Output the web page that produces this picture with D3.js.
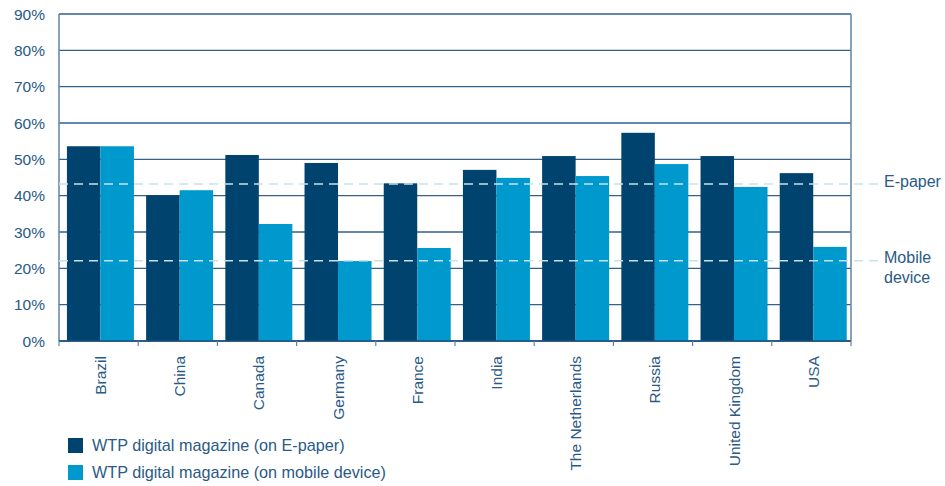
<!DOCTYPE html>
<html>
<head>
<meta charset="utf-8">
<script src="https://cdn.jsdelivr.net/npm/d3@7"></script>
<style>
  html, body { margin: 0; padding: 0; background: #fff; }
  svg { display: block; font-family: "Liberation Sans", Arial, Helvetica, sans-serif; }
</style>
</head>
<body>
<svg id="chart" width="945" height="486"></svg>
<script>
// Willingness to pay for a digital magazine, by country
const countries = ["Brazil", "China", "Canada", "Germany", "France", "India",
                   "The Netherlands", "Russia", "United Kingdom", "USA"];
const ePaper = [53.6, 40.1, 51.2, 49.0, 43.4, 47.1, 50.9, 57.3, 50.9, 46.2];
const mobile = [53.6, 41.5, 32.2, 22.0, 25.6, 44.9, 45.4, 48.7, 42.4, 25.9];
const seriesNames = ["WTP digital magazine (on E-paper)", "WTP digital magazine (on mobile device)"];
const averages = [43.2, 22.1];
const averageLabels = [["E-paper"], ["Mobile", "device"]];
const yTicks = [0, 10, 20, 30, 40, 50, 60, 70, 80, 90];

const colors = ["#00436f", "#0099cd"];
const textColor = "#2a5a85";
const gridColor = "#33618a";

const svg = d3.select("#chart");
const plot = { left: 59, right: 851, top: 14, bottom: 341 };

const x = d3.scaleBand().domain(countries).range([plot.left, plot.right]).paddingInner(0).paddingOuter(0);
const y = d3.scaleLinear().domain([0, 90]).range([plot.bottom, plot.top]);
const inner = d3.scaleBand().domain([0, 1]).range([0, x.bandwidth()])
  .paddingInner(0).paddingOuter(0.182).align(0.65);

// horizontal grid lines
svg.append("g")
  .selectAll("line")
  .data(yTicks)
  .join("line")
  .attr("x1", plot.left).attr("x2", plot.right)
  .attr("y1", d => y(d)).attr("y2", d => y(d))
  .attr("stroke", gridColor).attr("stroke-width", 1.4);

// y tick labels
svg.append("g")
  .selectAll("text")
  .data(yTicks)
  .join("text")
  .attr("x", 45).attr("y", d => y(d))
  .attr("dy", "0.36em")
  .attr("text-anchor", "end")
  .attr("fill", textColor)
  .attr("font-size", 15.5)
  .text(d => d + "%");

// bars
const groups = svg.append("g")
  .selectAll("g")
  .data(countries.map((c, i) => ({ c, vals: [ePaper[i], mobile[i]] })))
  .join("g")
  .attr("transform", d => `translate(${x(d.c)},0)`);

groups.selectAll("rect")
  .data(d => d.vals.map((v, k) => ({ v, k })))
  .join("rect")
  .attr("x", d => inner(d.k))
  .attr("width", inner.bandwidth())
  .attr("y", d => y(d.v))
  .attr("height", d => y(0) - y(d.v))
  .attr("fill", d => colors[d.k]);

// frame: left axis and right border
svg.append("line")
  .attr("x1", plot.left).attr("x2", plot.left)
  .attr("y1", plot.top).attr("y2", plot.bottom)
  .attr("stroke", "#5f84a5").attr("stroke-width", 1.5);
svg.append("line")
  .attr("x1", plot.right).attr("x2", plot.right)
  .attr("y1", plot.top).attr("y2", plot.bottom)
  .attr("stroke", "#5f84a5").attr("stroke-width", 1.5);

// x axis with ticks at category boundaries
const xAxis = svg.append("g");
xAxis.append("line")
  .attr("x1", plot.left).attr("x2", plot.right)
  .attr("y1", plot.bottom).attr("y2", plot.bottom)
  .attr("stroke", "#1f4f7a").attr("stroke-width", 1.5);
xAxis.selectAll("line.tick")
  .data(countries.map(c => x(c)).concat([plot.right]))
  .join("line")
  .attr("class", "tick")
  .attr("x1", d => d).attr("x2", d => d)
  .attr("y1", plot.bottom).attr("y2", plot.bottom + 5)
  .attr("stroke", "#5f84a5").attr("stroke-width", 1.2);

// rotated category labels
xAxis.selectAll("text")
  .data(countries)
  .join("text")
  .attr("transform", d => `translate(${x(d) + x.bandwidth() / 2 + 2},356) rotate(-90)`)
  .attr("dy", "0.35em")
  .attr("text-anchor", "end")
  .attr("fill", textColor)
  .attr("font-size", 15.5)
  .text(d => d);

// dashed average lines drawn over the bars
svg.append("g")
  .selectAll("line")
  .data(averages)
  .join("line")
  .attr("x1", plot.left).attr("x2", 881)
  .attr("y1", d => y(d)).attr("y2", d => y(d))
  .attr("stroke", "#c6e3ea").attr("stroke-width", 1.4)
  .attr("stroke-dasharray", "9,6");

const avgText = svg.append("g")
  .selectAll("text")
  .data(averages)
  .join("text")
  .attr("x", 884)
  .attr("y", d => y(d))
  .attr("fill", textColor)
  .attr("font-size", 16);
avgText.selectAll("tspan")
  .data((d, i) => averageLabels[i].map((t, j) => ({ t, j })))
  .join("tspan")
  .attr("x", 884)
  .attr("dy", d => d.j === 0 ? "-0.1em" : "1.2em")
  .attr("dominant-baseline", "middle")
  .text(d => d.t);

// legend
const legend = svg.append("g")
  .selectAll("g")
  .data(seriesNames)
  .join("g")
  .attr("transform", (d, i) => `translate(68,${438 + i * 27})`);
legend.append("rect")
  .attr("width", 15).attr("height", 15)
  .attr("fill", (d, i) => colors[i]);
legend.append("text")
  .attr("x", 24).attr("y", 7.5)
  .attr("dy", "0.35em")
  .attr("fill", textColor)
  .attr("font-size", 16.2)
  .text(d => d);
</script>
</body>
</html>
